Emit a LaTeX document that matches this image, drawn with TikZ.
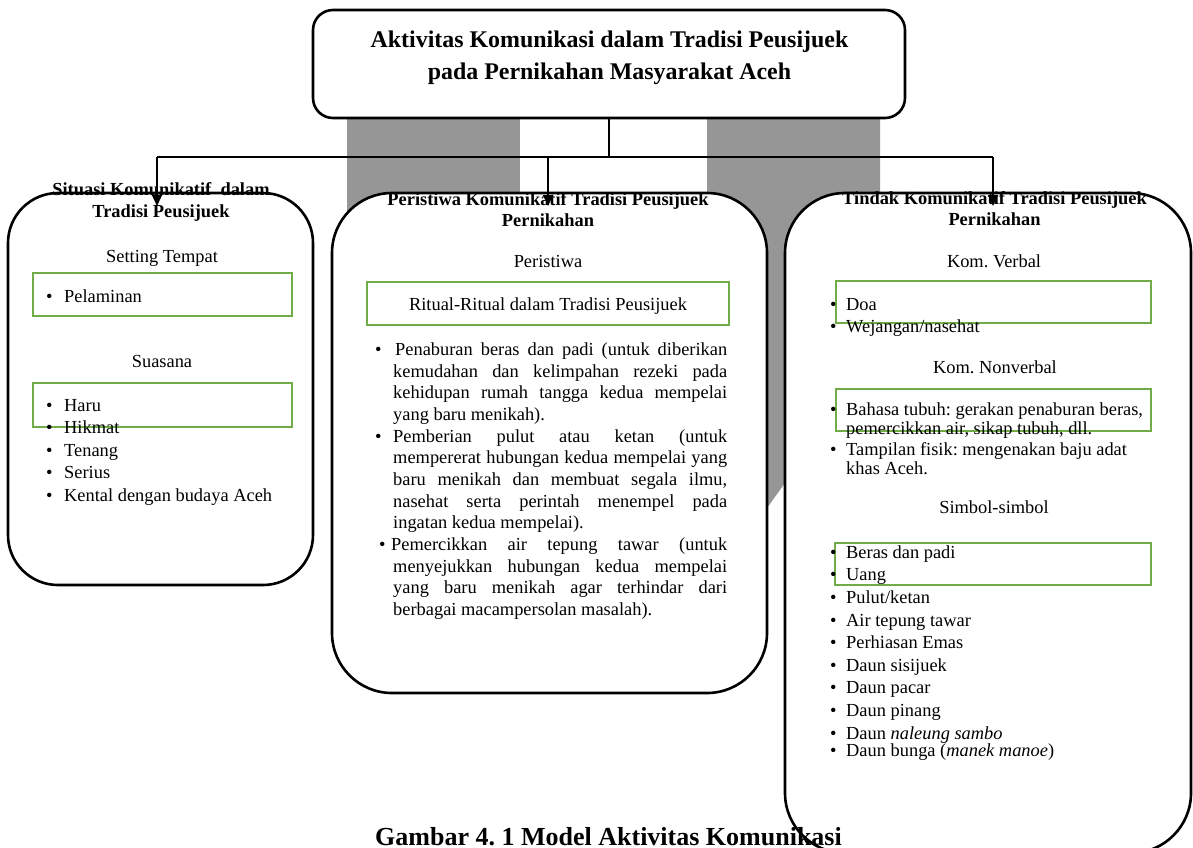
\documentclass[tikz,border=0pt]{standalone}
\usepackage{fontspec}
\setmainfont{Liberation Serif}
\usetikzlibrary{arrows.meta}
\definecolor{boxgreen}{RGB}{112,173,71}
\definecolor{watermark}{RGB}{150,150,150}
\newcommand{\blt}[1][18pt]{\makebox[#1][l]{\textbullet}}
\newcommand{\jst}[2][334pt]{\makebox[#1][s]{#2}}
\frenchspacing
\begin{document}
\begin{tikzpicture}[x=1pt, y=-1pt,
    wbox/.style={draw, line width=2.6pt, fill=white, rounded corners=#1, inner sep=0pt},
    gbox/.style={draw=boxgreen, line width=2.6pt, inner sep=0pt},
    head/.style={align=center, inner sep=0pt, font=\fontsize{18.4}{21.5}\selectfont\bfseries},
    sub/.style={anchor=base, inner sep=0pt, font=\fontsize{18.4}{22}\selectfont},
    list/.style={anchor=north west, align=left, inner sep=0pt, font=\fontsize{18.4}{#1}\selectfont},
    conn/.style={line width=1.2pt},
    arr/.style={conn, -{Triangle[width=10pt,length=11pt]}}]

    \useasboundingbox (0,0) rectangle (1193,847);
    \fill[white] (0,0) rectangle (1193,847);

    % watermark behind the boxes
    \fill[watermark] (347,100) rectangle (520,640);
    \fill[watermark] (707,100) -- (880,100) -- (880,350) -- (707,592) -- cycle;

    % boxes
    \node[wbox=20pt, minimum width=592pt, minimum height=108pt] (top) at (609,64) {};
    \node[wbox=50pt, minimum width=305pt, minimum height=392pt] (sit) at (160.5,389) {};
    \node[wbox=60pt, minimum width=435pt, minimum height=500pt] (per) at (549.5,443) {};
    \node[wbox=60pt, minimum width=406pt, minimum height=660pt] (tin) at (988,523) {};

    \node[gbox, minimum width=259pt, minimum height=43pt] (gPel) at (162.5,294.5) {};
    \node[gbox, minimum width=259pt, minimum height=44pt] (gSua) at (162.5,405) {};
    \node[gbox, minimum width=362pt, minimum height=43pt] (gRit) at (548,303.5) {};
    \node[gbox, minimum width=315pt, minimum height=42pt] (gVer) at (993.5,302) {};
    \node[gbox, minimum width=315pt, minimum height=42pt] (gNon) at (993.5,410) {};
    \node[gbox, minimum width=316pt, minimum height=42pt] (gSim) at (993,564) {};

    % connectors
    \coordinate (jM) at (609,157);
    \coordinate (jL) at (157,157);
    \coordinate (jR) at (993,157);
    \coordinate (tipL) at (157,206);
    \coordinate (tipM) at (548,206);
    \coordinate (tipR) at (993,206);
    \draw[conn] (top.south) -- (jM);
    \draw[conn] (jL) -- (jR);
    \draw[arr] (jL) -- (tipL);
    \draw[arr] (jL -| tipM) -- (tipM);
    \draw[arr] (jR) -- (tipR);

    % headings
    \node[head, font=\fontsize{23.9}{32}\selectfont\bfseries] (hTop) at (609.5,57.5) {Aktivitas Komunikasi dalam Tradisi Peusijuek\\pada Pernikahan Masyarakat Aceh};
    \node[head] (hSit) at (161,202) {Situasi Komunikatif~ dalam\\Tradisi Peusijuek};
    \node[head] (hPer) at (548,209.5) {Peristiwa Komunikatif Tradisi Peusijuek\\Pernikahan};
    \node[head] (hTin) at (994.5,208.5) {Tindak Komunikatif Tradisi Peusijuek\\Pernikahan};

    % left box
    \node[sub] (sTem) at (162,262) {Setting Tempat};
    \node[sub, anchor=base west] (lPel) at (46,302) {\blt Pelaminan};
    \node[sub] (sSua) at (162,367) {Suasana};
    \node[list=22.5] (lSua) at (46,398.8) {\blt Haru\\\blt Hikmat\\\blt Tenang\\\blt Serius\\\blt Kental dengan budaya Aceh};

    % middle box
    \node[sub] (sPer) at (548,267) {Peristiwa};
    \node[sub] (sRit) at (548,310) {Ritual-Ritual dalam Tradisi Peusijuek};
    \node[list=21.67] (lRit) at (375,342.4) {\blt[20pt]\jst[332pt]{Penaburan beras dan padi (untuk diberikan}\\
        \hspace*{18pt}\jst{kemudahan dan kelimpahan rezeki pada}\\
        \hspace*{18pt}\jst{kehidupan rumah tangga kedua mempelai}\\
        \hspace*{18pt}yang baru menikah).\\
        \blt\jst{Pemberian pulut atau ketan (untuk}\\
        \hspace*{18pt}\jst{mempererat hubungan kedua mempelai yang}\\
        \hspace*{18pt}\jst{baru menikah dan membuat segala ilmu,}\\
        \hspace*{18pt}\jst{nasehat serta perintah menempel pada}\\
        \hspace*{18pt}ingatan kedua mempelai).\\
        \hspace*{4pt}\blt[12pt]\jst[336pt]{Pemercikkan air tepung tawar (untuk}\\
        \hspace*{18pt}\jst{menyejukkan hubungan kedua mempelai}\\
        \hspace*{18pt}\jst{yang baru menikah agar terhindar dari}\\
        \hspace*{18pt}berbagai macampersolan masalah).};

    % right box
    \node[sub] (sVer) at (994,267) {Kom. Verbal};
    \node[list=22] (lVer) at (830,297.8) {\blt[16pt]Doa\\\blt[16pt]Wejangan/nasehat};
    \node[sub] (sNon) at (995,373) {Kom. Nonverbal};
    \node[list=19] (lNon) at (830,402.4) {\blt[16pt]Bahasa tubuh: gerakan penaburan beras,\\
        \hspace*{16pt}pemercikkan air, sikap tubuh, dll.\\[2pt]
        \blt[16pt]Tampilan fisik: mengenakan baju adat\\
        \hspace*{16pt}khas Aceh.};
    \node[sub] (sSim) at (994,513) {Simbol-simbol};
    \node[list=22.6] (lSim) at (830,545.4) {\blt[16pt]Beras dan padi\\\blt[16pt]Uang\\\blt[16pt]Pulut/ketan\\
        \blt[16pt]Air tepung tawar\\\blt[16pt]Perhiasan Emas\\\blt[16pt]Daun sisijuek\\
        \blt[16pt]Daun pacar\\\blt[16pt]Daun pinang\\\blt[16pt]Daun \textit{naleung sambo}\\[-5.6pt]
        \blt[16pt]Daun bunga (\textit{manek manoe})};

    % caption
    \node[anchor=base west, inner sep=0pt, font=\fontsize{26}{30}\selectfont\bfseries] (cap) at (375,845) {Gambar 4. 1 Model Aktivitas Komunikasi};
\end{tikzpicture}
\end{document}
